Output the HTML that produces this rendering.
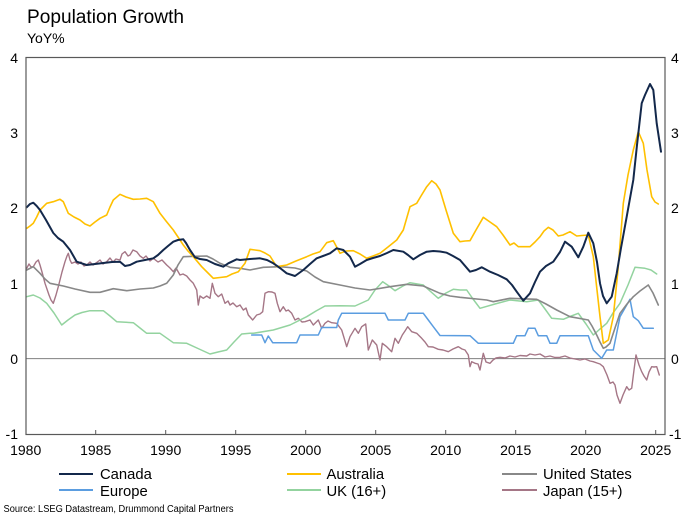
<!DOCTYPE html>
<html><head><meta charset="utf-8"><style>
html,body{margin:0;padding:0;background:#fff;}
svg{display:block;font-family:"Liberation Sans",Arial,sans-serif;}
</style></head><body>
<svg width="689" height="517" viewBox="0 0 689 517" xmlns="http://www.w3.org/2000/svg">
<rect width="689" height="517" fill="#fff"/>
<text x="27" y="23" font-size="19" fill="#000" textLength="157" lengthAdjust="spacingAndGlyphs">Population Growth</text>
<text x="27" y="43" font-size="14" fill="#000">YoY%</text>

<!-- zero line -->
<line x1="26" y1="358.6" x2="665" y2="358.6" stroke="#808080" stroke-width="1"/>

<g fill="none" stroke-linejoin="round" stroke-linecap="round">
<!-- Japan -->
<polyline stroke="#a57686" stroke-width="1.4" points="26.7,268.3 29,264 31,267 33.3,266.7 36,262 38.3,260 40,265 42,272 45,283.3 49,295 51,300 53.3,303.3 56,295 58.3,286.7 62,272 65,261.7 67,256 68.3,253.3 70,260 71.7,263.3 75,262 78,264 81,262 84,266 86.7,265 90,262 93,265 96,263 100,260 103,264 106.7,261.7 110,258 113,262 116,259 120,260 122,254 125,251.7 128,256 130,255 133,250 136.7,251.7 140,256 143.3,258.3 146,256 150,261 153.3,258.3 158,262 162,260 166.7,265 170,268 173.3,271.7 176,268 180,275 183,274 186.7,276 190,280 193.3,283.3 196.7,290 198.3,305 200,296 203.3,298.3 206.7,296 210,298.3 212.3,283.3 215,293.3 218.3,296.7 221.7,294 225,303.3 228,301 230,305 233,303 236.7,306.7 240,305 243.3,310 246,308 248.3,315 252.7,320 256.7,315 260,314 262.7,311.7 265,293.3 268.3,291.7 272,292 275,293.3 277.3,303.3 280,311.7 283.3,306.7 286,311 288.3,310 291.7,313.3 295,320 298.3,318.3 302,322 305,321.7 310,320 313.3,325 318.3,320 321.7,328.3 325,323.3 328,321 331.7,322.7 336.7,323.3 341.7,330 346.7,346.7 350,336.7 355,328.3 358.3,333.3 361.7,326.7 365.7,324 368.3,350 372.3,340 376.7,345 380,360 382.3,343.3 386.7,346.7 391.7,351.7 395,338.3 398.3,343.3 402.3,335 405,331 407.7,326.7 411.7,331.7 416.7,333.3 421.7,338.3 425,342 428.3,346.7 433,347 438.3,349.3 443,350 448.3,351.7 453,349 458.3,346.7 462,349 465,350 468.3,355 470,366.7 471.7,361.7 475,363.3 478,364 480,370 483.3,353.3 486,362 490,363.3 493,360 496,358 500,357.3 505,358 510,356 515,357 520,355.5 526.7,356 530,354 535,355 540,354 545,357 550,356 555,357.5 560,357.3 565,356 570,358 575,359 580,360 585,359 590,361 593.3,361.7 597,363 600,364 603.3,366.7 607,375 610,383.3 613,382 615,385 617,395 620,403.3 623,395 626.7,386.7 629,390 631.7,388.3 634,370 636,355 639,365 641.7,371.7 644,376 646.7,380 649,372 651.7,366.7 654,367 656.7,366.7 659.3,375"/>
<!-- UK -->
<polyline stroke="#93d39f" stroke-width="1.5" points="26.7,296.7 33.3,295 40,298 46.7,303.3 54,313 61.7,325 68,320 75,315 82,312.5 90,310.7 103.3,310.7 110,316 116.7,321.7 133.3,322.7 140,328 146.7,333.3 160,333.3 173.3,342.7 186.7,343.3 198,348.5 210,354 218,352 226.7,350 234,342 241.7,334 250,333.3 253.3,333.3 273.3,330 290,325 306.7,316.7 316,311 325,306 340,305.8 355,306 368.3,300 375,290 382.7,281.7 389,286 395,290.7 403,286 410,282.7 423.3,285 430,291 438.3,298.3 446,293 453.3,289.3 460,290 466.7,290 473,299 480,308.3 495,304 510,300 526.7,301.7 538.3,300 545,309 551.7,318.3 563.3,319.3 570,316.5 578.3,313.3 586,324 593.3,335 600,329 606.7,323.3 613,313 620,303.3 628,285 635,267.3 645,268.3 651,270 656.7,274"/>
<!-- Europe -->
<polyline stroke="#5b9de0" stroke-width="1.5" points="251.7,335 261.7,335 265,342.7 268.3,336 272.7,342.7 296.7,342.7 300,335 318.3,335 321.7,327.5 336.7,327.5 338.3,320 341.7,313.3 385,313.3 388.3,320 405,320 408.3,313.3 423.3,313.3 428.3,320 433.3,326.7 440,335.5 470,335.7 478.3,343.3 513.3,343.3 516.7,335.7 525,335.7 528.3,328.3 535,328.3 538.3,335.7 546.7,335.7 550,343.3 556.7,343.3 560,335.7 588.3,335.7 593.3,350 601.7,358.3 606.7,350 613.3,350 620,316.7 630,299.3 633.3,316.7 638.3,320.7 643.3,328.3 653.3,328.3"/>
<!-- US -->
<polyline stroke="#888888" stroke-width="1.6" points="26.7,270 33.3,266.7 40,273.3 45,279 50,283.3 63.3,286 75,289 90,292.3 100,292.3 113.3,288.7 126.7,290.7 140,289 153.3,288 160,286 166.7,283.3 173.3,275 178,265 183.3,256.7 195,256.3 206.7,256 213,259 220,263.3 230,267.3 240,268.3 250,270 263.3,267.3 280,266.7 295,268 306.7,271 315,277 323.3,281.7 340,285 355,288 370,290 390,286.7 406.7,284.3 423.3,286 440,293.3 450,296 460,297.3 486.7,300 493.3,301.7 510,298.3 536.7,299.3 546,304 556.7,310 570,316.7 588.3,320 592,326 596.7,335 600,342 603.3,348.3 606,347 610,343.3 615,328 620,313.3 627,304 633.3,296.7 640,291 648.3,285 653,293 658.3,305"/>
<!-- Australia -->
<polyline stroke="#ffc000" stroke-width="1.6" points="26.7,228.3 30,226 33.3,223.3 36.7,217 40,210 46.7,203.3 53.3,201.7 60,199.3 63.3,201.7 68.3,213.3 74,217 80,220 85,224 90,226 95,222 100,218.3 106.7,215 110,207 113.3,200 120,194.3 126,197 133.3,199.3 140,199 146.7,198.3 153.3,201.7 160,213.3 166,221 173.3,230 178,237 183.3,245 188,251 193.3,256.7 201.7,266.7 207,272 213.3,278.3 220,277.5 226.7,276.7 232,274 238.3,271.7 245,263.3 250,249.3 255,250 260,250.7 265,253 270,256 276.7,266.7 286.7,265 296,261 306.7,256.7 313,254 320,251.7 326.7,242.7 333.3,240.7 340,253.3 346,251 353.3,250.7 360,254 366.7,258.3 373,256 380,253.3 388,247 396.7,240 403.3,230 410,206.7 416.7,203.3 421,196 426.7,186.7 431.7,180.7 436,184 440,190 446,210 453.3,233.3 460,241.7 465,241 470,240.7 476,230 483.3,217.3 490,222 496.7,226.7 503,235 510,245 514,243 518.3,246.7 530,246.7 535,242 540,236.7 544,231 548.3,227.3 553,230 558.3,236 563,235 570,231.7 576.7,236 582,235.5 588.3,235 593.3,256.7 597,290 600,316.7 603.3,343.3 608.3,340 613.3,316.7 618,270 623.3,203.3 628,175 633.3,150 638.3,131.7 643.3,143.3 647,170 651.7,196.7 655,202 658.3,204"/>
<!-- Canada -->
<polyline stroke="#13284b" stroke-width="2" points="26.7,207.3 30,204 33.3,202.7 36.7,206 40,210 46,220 53.3,233 58,238 63.3,241.7 70,250 76.7,261.7 86.7,265 95,264 103.3,263 112,262 120,261.7 125,266 130,265 136.7,261.7 145,260 153.3,258.3 158,255 163.3,250 168,246 173.3,241.7 178,240 183.3,239.3 186,243 190,250 195,257.3 200,259 206.7,260 215,264 223.3,266.7 228.3,263.3 236.7,259.3 240,260 250,259 260,258.3 267,260 273.3,263.3 280,268 286.7,273.3 295,276 303.3,270 310,264 316.7,258.3 323,256 330,253.3 336.7,248.3 343.3,250 350,256.7 355,266.7 360,264 366.7,260 373,258 380,256 387,253 393.3,250 403.3,251.7 408,255 413.3,259.3 420,255 426.7,251.7 433.3,251 440,251.5 446.7,252.7 453,256 460,260 470,271.7 476,270 481.7,267.3 490,271.7 498,275 506.7,279.3 512,285 516.7,291.7 523.3,300.7 530,293.3 535,282 540,271.7 546,266 553.3,261.7 560,252 565,241.7 571.7,246.7 578.3,257.3 583.3,246.7 588.3,232.7 593.3,243.3 597,262 600,283.3 603,296 606.7,303.3 611.7,296.7 616.7,273.3 621,248 626.7,216.7 633.3,180 637,145 641.7,103.3 645,95 650,84 653.3,90 656.7,123.3 661,151.7"/>
</g>

<!-- frame -->
<rect x="26" y="57.5" width="639" height="377" fill="none" stroke="#595959" stroke-width="1.2"/>
<g stroke="#595959" stroke-width="1">
<line x1="95.7" y1="434" x2="95.7" y2="430"/>
<line x1="165.7" y1="434" x2="165.7" y2="430"/>
<line x1="235.7" y1="434" x2="235.7" y2="430"/>
<line x1="305.7" y1="434" x2="305.7" y2="430"/>
<line x1="375.7" y1="434" x2="375.7" y2="430"/>
<line x1="445.7" y1="434" x2="445.7" y2="430"/>
<line x1="515.7" y1="434" x2="515.7" y2="430"/>
<line x1="585.7" y1="434" x2="585.7" y2="430"/>
<line x1="655.7" y1="434" x2="655.7" y2="430"/>
</g>

<!-- y labels -->
<g font-size="14" fill="#000" text-anchor="end">
<text x="18" y="63">4</text>
<text x="18" y="138">3</text>
<text x="18" y="213">2</text>
<text x="18" y="289">1</text>
<text x="18" y="364">0</text>
<text x="18" y="439">-1</text>
</g>
<g font-size="14" fill="#000" text-anchor="start">
<text x="671" y="63">4</text>
<text x="671" y="138">3</text>
<text x="671" y="213">2</text>
<text x="671" y="289">1</text>
<text x="671" y="364">0</text>
<text x="669" y="439">-1</text>
</g>
<!-- x labels -->
<g font-size="14" fill="#000" text-anchor="middle">
<text x="25.7" y="455">1980</text>
<text x="95.7" y="455">1985</text>
<text x="165.7" y="455">1990</text>
<text x="235.7" y="455">1995</text>
<text x="305.7" y="455">2000</text>
<text x="375.7" y="455">2005</text>
<text x="445.7" y="455">2010</text>
<text x="515.7" y="455">2015</text>
<text x="585.7" y="455">2020</text>
<text x="655.7" y="455">2025</text>
</g>

<!-- legend -->
<g stroke-width="2">
<line x1="59" y1="474" x2="93" y2="474" stroke="#13284b"/>
<line x1="59" y1="490" x2="93" y2="490" stroke="#5b9de0"/>
<line x1="287" y1="474" x2="321" y2="474" stroke="#ffc000"/>
<line x1="287" y1="490" x2="321" y2="490" stroke="#93d39f"/>
<line x1="502" y1="474" x2="537" y2="474" stroke="#888888"/>
<line x1="502" y1="490" x2="537" y2="490" stroke="#a57686"/>
</g>
<g font-size="14.8" fill="#000">
<text x="100" y="479">Canada</text>
<text x="100" y="496">Europe</text>
<text x="326.5" y="479">Australia</text>
<text x="326.5" y="496">UK (16+)</text>
<text x="543" y="479">United States</text>
<text x="543" y="496">Japan (15+)</text>
</g>
<text x="3.5" y="512" font-size="10" fill="#000" textLength="230" lengthAdjust="spacingAndGlyphs">Source: LSEG Datastream, Drummond Capital Partners</text>
</svg>
</body></html>
